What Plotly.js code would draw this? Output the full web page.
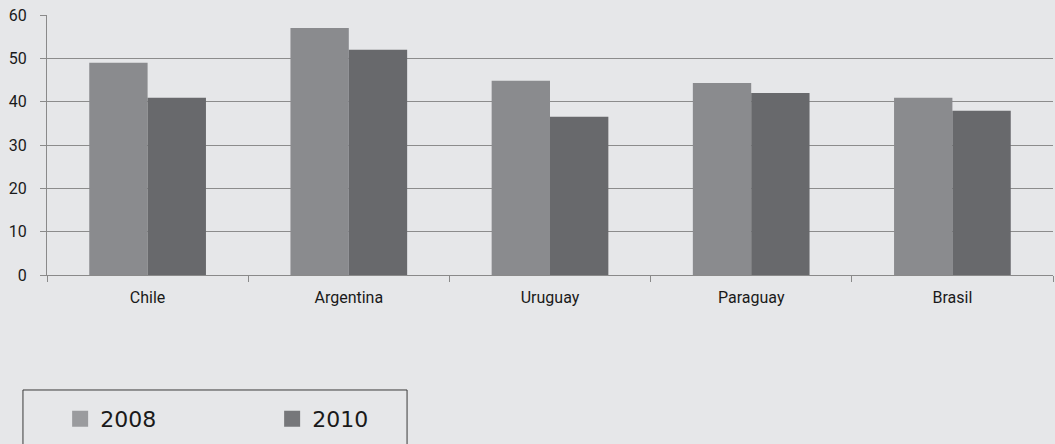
<!DOCTYPE html>
<html><head><meta charset="utf-8">
<script src="https://cdn.plot.ly/plotly-3.0.1.min.js"></script>
<style>html,body{margin:0;padding:0;background:#e6e7e9;}#chart{width:1055px;height:444px;}</style>
</head><body><div id="chart"></div>
<script>
const categories = ["Chile", "Argentina", "Uruguay", "Paraguay", "Brasil"];
const series2008 = [49, 57, 44.8, 44.3, 40.9];
const series2010 = [40.9, 52, 36.5, 42, 37.9];
const seriesNames = ["2008", "2010"];
const seriesColors = ["#8a8b8e", "#68696c"];
const legendColors = ["#9a9b9e", "#76777a"];
const yTicks = [0, 10, 20, 30, 40, 50, 60];

const axisFont = {family: "Roboto, sans-serif", size: 16, color: "#1a1a1a"};
const traces = [
  {type: "bar", name: seriesNames[0], x: categories, y: series2008, marker: {color: seriesColors[0]}, showlegend: false},
  {type: "bar", name: seriesNames[1], x: categories, y: series2010, marker: {color: seriesColors[1]}, showlegend: false},
  {type: "scatter", mode: "markers", name: seriesNames[0], x: [categories[0]], y: [null],
   marker: {symbol: "square", size: 16, color: legendColors[0], line: {width: 0}}, showlegend: true, hoverinfo: "skip"},
  {type: "scatter", mode: "markers", name: seriesNames[1], x: [categories[0]], y: [null],
   marker: {symbol: "square", size: 16, color: legendColors[1], line: {width: 0}}, showlegend: true, hoverinfo: "skip"}
];
const layout = {
  width: 1055, height: 444,
  paper_bgcolor: "#e6e7e9", plot_bgcolor: "#e6e7e9",
  margin: {l: 47, r: 2, t: 15, b: 169},
  barmode: "group", bargap: 0.42, bargroupgap: 0,
  xaxis: {
    tickfont: axisFont, showgrid: false, showline: true, linecolor: "#8a8a8a", linewidth: 1,
    ticks: "outside", tickson: "boundaries", ticklen: 6, tickcolor: "#8a8a8a",
    ticklabelstandoff: 8
  },
  yaxis: {
    range: [0, 60], tickvals: yTicks, tickfont: axisFont,
    showgrid: true, gridcolor: "#8c8c8c", gridwidth: 1,
    showline: true, linecolor: "#8a8a8a", linewidth: 1,
    ticks: "outside", ticklen: 6, tickcolor: "#8a8a8a", zeroline: false,
    ticklabelstandoff: 10
  },
  legend: {
    orientation: "h", xref: "container", yref: "container",
    x: 0.057, xanchor: "left", y: 0.0563, yanchor: "middle",
    font: {family: "DejaVu Sans, sans-serif", size: 22, color: "#1a1a1a"},
    entrywidth: 167, entrywidthmode: "pixels", bgcolor: "rgba(0,0,0,0)", borderwidth: 0
  },
  shapes: [{
    type: "rect", xref: "paper", yref: "paper",
    x0: -0.0239, x1: 0.3579, y0: -0.4423, y1: -0.75,
    line: {color: "#3a3a3a", width: 1}, fillcolor: "rgba(0,0,0,0)", layer: "above"
  }],
  showlegend: true
};
Plotly.newPlot("chart", traces, layout, {displayModeBar: false, staticPlot: true});
</script></body></html>
